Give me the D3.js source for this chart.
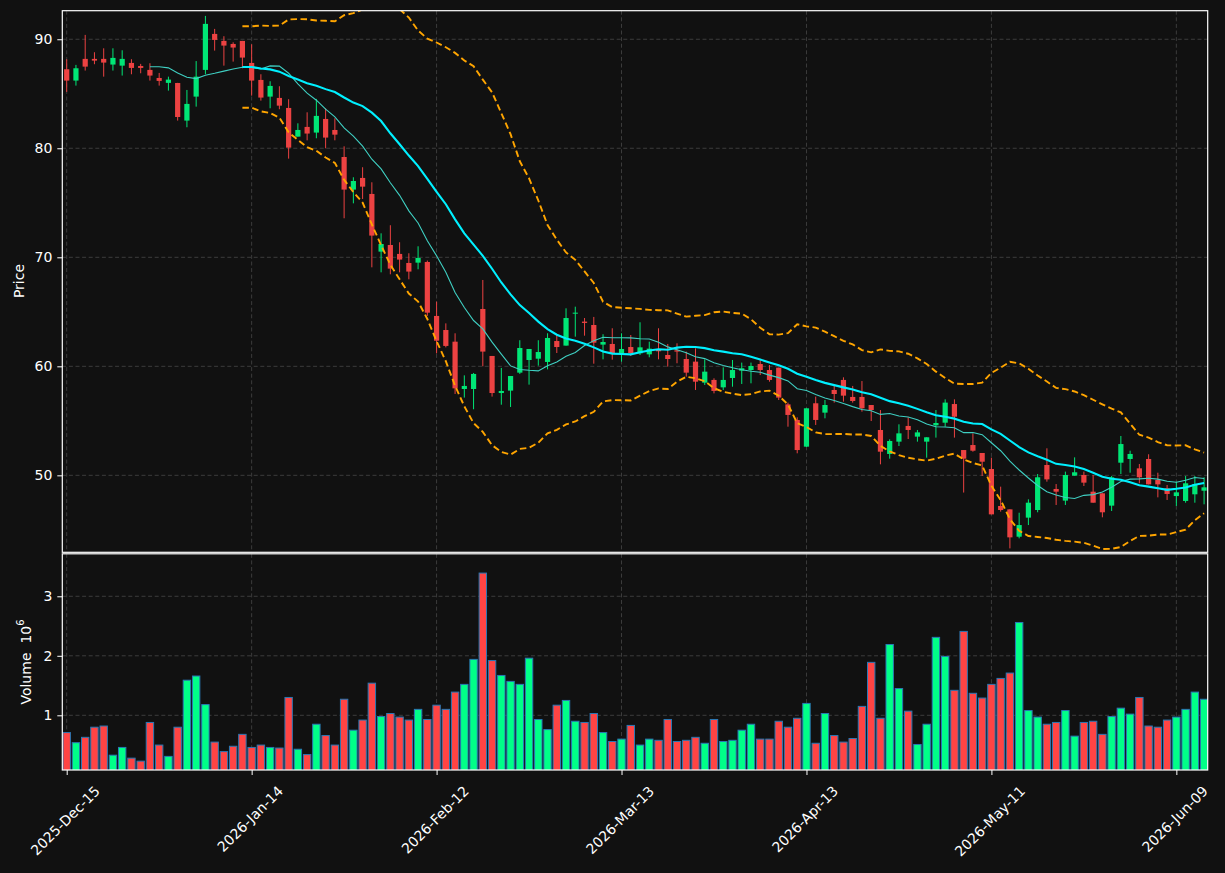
<!DOCTYPE html>
<html><head><meta charset="utf-8">
<script src="https://cdn.jsdelivr.net/npm/d3@7/dist/d3.min.js"></script>
<style>html,body{margin:0;padding:0;background:#111111;}svg{display:block;}</style>
</head><body>
<script>
// ---------------- DATA ----------------
const xTickIdx = [0, 20, 40, 60, 80, 100, 120];
const xTickLabels = ["2025-Dec-15","2026-Jan-14","2026-Feb-12","2026-Mar-13","2026-Apr-13","2026-May-11","2026-Jun-09"];
const priceTicks = [50, 60, 70, 80, 90];
const volTicks = [1, 2, 3];

const opens = [87.25,86.21,88.20,88.20,88.20,87.68,87.58,87.83,87.55,87.19,86.45,86.00,85.99,82.54,84.74,87.19,90.49,89.85,89.57,89.85,
87.83,86.27,84.74,84.62,83.70,81.07,81.96,81.44,82.69,81.68,79.20,76.21,77.28,75.81,70.52,71.13,70.31,69.48,69.51,69.57,
64.62,63.33,62.26,57.92,57.92,65.26,60.95,57.55,57.77,59.42,60.58,60.70,60.40,62.32,61.90,64.83,64.10,63.79,61.99,62.05,
61.22,61.77,61.19,61.10,61.50,61.04,61.47,60.67,60.43,58.50,58.75,58.07,58.93,59.60,59.66,60.21,59.66,59.88,56.51,55.08,
52.63,56.61,55.75,57.83,58.75,57.19,57.19,56.45,54.16,51.96,53.09,54.53,53.55,53.09,54.59,54.83,56.54,52.32,52.78,52.05,
50.58,47.19,46.88,44.37,46.12,46.82,50.95,48.75,47.68,49.97,50.03,48.50,48.35,47.22,51.16,51.50,50.64,51.50,49.57,48.81,
48.10,47.65,48.26,48.59];
const highs = [88.17,87.65,90.40,88.81,89.17,89.17,88.99,88.17,87.74,87.80,86.91,86.57,86.00,85.35,88.00,92.14,90.95,90.28,89.72,89.85,
89.54,86.79,86.15,85.69,84.50,82.29,83.30,84.53,83.67,82.75,80.18,77.34,78.26,76.88,72.20,72.94,71.38,70.37,71.01,69.70,
65.93,63.94,63.03,59.17,59.39,67.92,60.95,59.85,59.11,62.39,61.59,62.39,63.03,62.94,65.32,65.47,64.43,64.53,62.94,63.49,
63.03,62.87,64.04,62.26,63.49,62.05,62.11,61.35,61.65,60.64,58.90,59.91,60.58,60.34,60.34,60.58,60.12,59.88,56.67,55.32,
56.15,57.22,56.91,58.20,58.99,58.20,58.65,56.45,55.99,53.30,54.68,55.32,54.16,53.49,55.99,56.97,56.97,52.32,53.85,52.05,
51.62,48.96,46.88,46.57,47.80,50.12,52.48,49.20,50.34,51.65,50.34,50.03,48.35,49.94,53.61,52.26,51.04,51.93,50.24,49.11,
49.42,49.94,49.94,49.82];
const lows = [85.17,85.75,87.13,87.71,86.57,87.13,86.67,86.79,86.88,86.21,85.75,85.29,82.54,81.93,83.82,86.79,88.96,87.58,87.95,87.34,
84.83,84.37,83.67,83.58,79.05,81.07,80.73,80.92,80.00,80.73,73.58,74.95,75.35,69.08,68.62,68.44,68.62,67.98,68.90,64.62,
61.19,61.74,57.46,57.13,56.06,60.00,57.22,56.48,56.27,59.30,58.32,60.06,59.72,61.22,61.90,62.72,62.81,60.24,60.64,60.61,
60.43,60.95,61.04,60.83,60.64,59.97,60.28,59.05,57.83,58.29,57.52,57.83,58.13,58.38,58.44,59.20,58.59,56.91,54.46,52.02,
52.60,54.62,55.23,56.67,56.76,56.67,55.84,54.98,51.01,51.53,52.69,53.33,53.09,51.62,53.46,54.46,53.46,48.42,52.17,49.94,
46.42,46.67,43.30,44.22,45.44,46.61,49.42,47.28,47.28,49.97,49.02,47.49,46.15,46.73,50.12,50.24,49.27,49.17,47.98,47.74,
47.19,47.49,47.49,47.34];
const closes = [86.21,87.34,87.49,88.04,87.86,88.29,88.20,87.37,87.37,86.67,86.18,86.30,82.87,84.07,86.57,91.41,89.94,89.42,89.24,88.32,
86.21,84.65,85.72,83.91,80.06,81.68,81.35,82.97,80.98,81.25,76.21,77.00,76.48,71.99,71.22,68.96,69.79,68.69,69.94,64.92,
62.35,61.87,57.98,58.20,59.30,61.35,57.55,57.74,59.11,61.68,61.59,61.31,62.60,61.77,64.43,64.92,63.98,62.17,62.23,61.22,
61.59,61.22,61.74,61.62,61.38,60.67,61.35,59.42,58.59,59.51,57.74,58.75,59.66,59.82,60.03,59.66,58.75,57.13,55.54,52.32,
56.15,55.08,56.45,57.46,57.31,56.82,56.15,55.99,52.17,53.15,53.85,54.16,53.94,53.49,54.80,56.67,55.38,51.53,52.26,51.25,
46.42,46.82,44.31,45.44,47.49,49.82,49.63,48.50,50.03,50.28,49.33,47.49,46.61,49.82,52.87,51.96,49.82,49.17,49.17,48.29,
48.44,49.27,49.20,48.90];
const volumes = [0.71,0.54,0.63,0.80,0.82,0.33,0.46,0.28,0.23,0.88,0.50,0.31,0.80,1.59,1.66,1.18,0.55,0.39,0.48,0.68,
0.46,0.50,0.46,0.45,1.30,0.43,0.34,0.85,0.66,0.50,1.27,0.75,0.92,1.54,0.98,1.03,0.97,0.92,1.10,0.93,
1.17,1.10,1.39,1.52,1.94,3.39,1.92,1.67,1.57,1.52,1.96,0.93,0.76,1.17,1.25,0.90,0.88,1.03,0.71,0.56,
0.60,0.83,0.50,0.60,0.58,0.93,0.56,0.58,0.63,0.53,0.93,0.56,0.58,0.75,0.85,0.60,0.60,0.90,0.80,0.95,
1.20,0.53,1.03,0.66,0.55,0.61,1.15,1.89,0.95,2.19,1.45,1.07,0.51,0.85,2.31,1.99,1.42,2.41,1.37,1.29,
1.52,1.62,1.71,2.56,1.08,0.97,0.85,0.88,1.08,0.65,0.88,0.90,0.68,0.98,1.12,1.02,1.30,0.82,0.80,0.92,
0.97,1.10,1.39,1.27];

// ---------------- INDICATORS (derived from closes) ----------------
function rollingMean(arr, n) {
  return arr.map((_, i) => i < n - 1 ? null : d3.mean(arr.slice(i - n + 1, i + 1)));
}
function rollingStd(arr, n) {
  return arr.map((_, i) => {
    if (i < n - 1) return null;
    const w = arr.slice(i - n + 1, i + 1), m = d3.mean(w);
    return Math.sqrt(d3.mean(w, v => (v - m) * (v - m)));
  });
}
const ma10 = rollingMean(closes, 10);
const ma20 = rollingMean(closes, 20);
const sd20 = rollingStd(closes, 20);
const bbUpper = ma20.map((m, i) => m === null ? null : m + 2 * sd20[i]);
const bbLower = ma20.map((m, i) => m === null ? null : m - 2 * sd20[i]);

// ---------------- LAYOUT ----------------
const W = 1225, H = 873;
const L = 62.3, R = 1207.7;
const pTop = 10.7, pBot = 552.3, vTop = 553.8, vBot = 770;
const bg = "#111111", gridC = "#3c3c3c", fg = "#ffffff";
const upC = "#00e676", dnC = "#ec4242", volUp = "#00ff88", volDn = "#ff4444", volEdge = "#2a78b5";
const font = "DejaVu Sans, sans-serif";

const svg = d3.select("body").append("svg").attr("width", W).attr("height", H)
  .style("background", bg);

const n = closes.length;
const x = d3.scaleLinear().domain([-0.476, 123.39]).range([L, R]);
const yP = d3.scaleLinear().domain([42.94, 92.62]).range([pBot, pTop]);
const yV = d3.scaleLinear().domain([0.081, 3.714]).range([vBot, vTop]);

const defs = svg.append("defs");
defs.append("clipPath").attr("id", "clipP").append("rect")
  .attr("x", L).attr("y", pTop).attr("width", R - L).attr("height", pBot - pTop);
defs.append("clipPath").attr("id", "clipV").append("rect")
  .attr("x", L).attr("y", vTop).attr("width", R - L).attr("height", vBot - vTop);

// grid
const grid = svg.append("g").attr("stroke", gridC).attr("stroke-width", 1).attr("stroke-dasharray", "4,2.6");
xTickIdx.forEach(t => {
  grid.append("line").attr("x1", x(t)).attr("x2", x(t)).attr("y1", pTop).attr("y2", pBot);
  grid.append("line").attr("x1", x(t)).attr("x2", x(t)).attr("y1", vTop).attr("y2", vBot);
});
priceTicks.forEach(p => grid.append("line").attr("x1", L).attr("x2", R).attr("y1", yP(p)).attr("y2", yP(p)));
volTicks.forEach(v => grid.append("line").attr("x1", L).attr("x2", R).attr("y1", yV(v)).attr("y2", yV(v)));

// candles
const idx = d3.range(n);
const cg = svg.append("g").attr("clip-path", "url(#clipP)");
const bodyW = 5.2;
cg.selectAll("line.wick").data(idx).join("line").attr("class", "wick")
  .attr("x1", i => x(i)).attr("x2", i => x(i))
  .attr("y1", i => yP(highs[i])).attr("y2", i => yP(lows[i]))
  .attr("stroke", i => closes[i] >= opens[i] ? upC : dnC).attr("stroke-width", 1);
cg.selectAll("rect.body").data(idx).join("rect").attr("class", "body")
  .attr("x", i => x(i) - bodyW / 2).attr("width", bodyW)
  .attr("y", i => yP(Math.max(opens[i], closes[i])))
  .attr("height", i => Math.max(1, Math.abs(yP(opens[i]) - yP(closes[i]))))
  .attr("fill", i => closes[i] >= opens[i] ? upC : dnC);

// moving averages & bands
const lineGen = arr => d3.line().defined(i => arr[i] !== null).x(i => x(i)).y(i => yP(arr[i]))(idx);
[bbUpper, bbLower].forEach(b => cg.append("path").attr("d", lineGen(b)).attr("fill", "none")
  .attr("stroke", "#ffa500").attr("stroke-width", 1.9).attr("stroke-dasharray", "6.5,3.5"));
cg.append("path").attr("d", lineGen(ma10)).attr("fill", "none").attr("stroke", "#3fcfc2")
  .attr("stroke-width", 1.1);
cg.append("path").attr("d", lineGen(ma20)).attr("fill", "none").attr("stroke", "#00f0ff")
  .attr("stroke-width", 2.1);

// volume
const vg = svg.append("g").attr("clip-path", "url(#clipV)");
const vW = 7.4;
vg.selectAll("rect.vol").data(idx).join("rect").attr("class", "vol")
  .attr("x", i => x(i) - vW / 2).attr("width", vW)
  .attr("y", i => yV(volumes[i])).attr("height", i => vBot - yV(volumes[i]) + 2)
  .attr("fill", i => closes[i] >= opens[i] ? volUp : volDn)
  .attr("stroke", volEdge).attr("stroke-width", 1);

// panel frames
svg.append("rect").attr("x", L).attr("y", pTop).attr("width", R - L).attr("height", pBot - pTop)
  .attr("fill", "none").attr("stroke", fg).attr("stroke-width", 1.2);
svg.append("rect").attr("x", L).attr("y", vTop).attr("width", R - L).attr("height", vBot - vTop)
  .attr("fill", "none").attr("stroke", fg).attr("stroke-width", 1.2);

// axes
function styleAxis(g) {
  g.select(".domain").remove();
  g.selectAll(".tick line").attr("stroke", fg).attr("stroke-width", 1);
  g.selectAll(".tick text").attr("fill", fg).style("font-family", font).style("font-size", "14px");
}
svg.append("g").attr("transform", `translate(${L},0)`)
  .call(d3.axisLeft(yP).tickValues(priceTicks).tickSize(5).tickPadding(5).tickFormat(d3.format("d")))
  .call(styleAxis);
svg.append("g").attr("transform", `translate(${L},0)`)
  .call(d3.axisLeft(yV).tickValues(volTicks).tickSize(5).tickPadding(5).tickFormat(d3.format("d")))
  .call(styleAxis);
const xa = svg.append("g").attr("transform", `translate(0,${vBot})`)
  .call(d3.axisBottom(x).tickValues(xTickIdx).tickSize(5).tickFormat((d, k) => xTickLabels[k]))
  .call(styleAxis);
xa.selectAll(".tick text").each(function () {
  const t = d3.select(this);
  const w = this.getComputedTextLength();
  const yc = 15 + (w + 10) * 0.3536;
  t.attr("y", yc).attr("x", -2).attr("dy", null)
    .attr("text-anchor", "middle").attr("dominant-baseline", "central")
    .attr("transform", `rotate(-45,-2,${yc})`);
});

// axis labels
svg.append("text").attr("transform", "translate(18.5,281) rotate(-90)")
  .attr("text-anchor", "middle").attr("dominant-baseline", "central")
  .attr("fill", fg).style("font-family", font).style("font-size", "14px").text("Price");
const vl = svg.append("text").attr("transform", "translate(26,662) rotate(-90)")
  .attr("text-anchor", "middle").attr("dominant-baseline", "central")
  .attr("fill", fg).style("font-family", font).style("font-size", "14px").style("white-space", "pre");
vl.append("tspan").text("Volume  10");
vl.append("tspan").attr("dy", -6).style("font-size", "10px").text("6");
</script>
</body></html>
